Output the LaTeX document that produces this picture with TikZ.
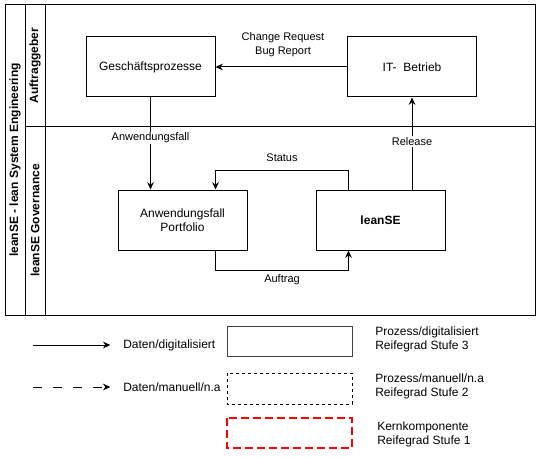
\documentclass[tikz,border=0pt]{standalone}
\usepackage{fontspec}
\setmainfont{Liberation Sans}
\usepackage{xcolor}
\definecolor{kern}{HTML}{FF0000}
\usetikzlibrary{arrows.meta, positioning, calc}

\begin{document}
\begin{tikzpicture}[x=0.75pt, y=-0.75pt,
    box/.style={draw, line width=0.75pt, minimum width=96.75pt, minimum height=45pt,
                align=center, font=\fontsize{9pt}{10.8pt}\selectfont},
    flow/.style={line width=0.75pt, -{Stealth[length=5.5pt, width=5pt]}},
    lbl/.style={font=\fontsize{8.25pt}{10.5pt}\selectfont, align=center, inner sep=1pt},
    lane/.style={font=\fontsize{9pt}{10.8pt}\selectfont\bfseries, rotate=90},
    legtxt/.style={font=\fontsize{9pt}{10.5pt}\selectfont, align=left, anchor=west, inner sep=0pt}]
  \useasboundingbox (0,0) rectangle (541,456);

  % pool mit zwei lanes
  \draw[line width=0.75pt] (5,5) rectangle (535,315);
  \draw[line width=0.75pt] (25,5) -- (25,315);
  \draw[line width=0.75pt] (45,5) -- (45,315);
  \draw[line width=0.75pt] (25,126) -- (535,126);
  \node[lane] (pool) at (15,160) {leanSE - lean System Engineering};
  \node[lane] (ag) at (35,65.5) {Auftraggeber};
  \node[lane] (gov) at (35,220.5) {leanSE Governance};

  % prozesse
  \node[box] (gp) at (150.5,67) {Geschäftsprozesse};
  \node[box] (it) at (412,67) {IT-\ \ Betrieb};
  \node[box] (afp) at (182.5,220) {Anwendungsfall\\Portfolio};
  \node[box, font=\fontsize{9pt}{10.8pt}\selectfont\bfseries] (lse) at (380.5,220) {leanSE};

  % datenflüsse
  \draw[flow] (it.west) -- (gp.east);
  \node[lbl] (cr) at (283,45) {Change Request\\Bug Report};
  \draw[flow] (gp.south) -- (gp.south |- afp.north)
    node[lbl, fill=white, pos=0.44] (af) {Anwendungsfall};
  \draw[flow] (lse.north -| it.south) -- (it.south)
    node[lbl, fill=white, pos=0.52] (rel) {Release};
  \draw[flow] ([xshift=24.75pt]lse.north west) -- ++(0,-19) -| ([xshift=-24pt]afp.north east)
    node[lbl, pos=0.25, above=5pt] (st) {Status};
  \draw[flow] ([xshift=-24pt]afp.south east) -- ++(0,20) -| ([xshift=24.75pt]lse.south west)
    node[lbl, pos=0.25, below=2pt] (auf) {Auftrag};

  % legende
  \node[legtxt] (d1) at (123,345) {Daten/digitalisiert};
  \node[legtxt] (d2) at (123,387) {Daten/manuell/n.a};
  \coordinate (l1) at (33,345);
  \coordinate (l2) at (33,387);
  \draw[flow] (l1) -- ([xshift=-9.5pt]d1.west);
  \draw[flow, dash pattern=on 6.5pt off 8.5pt] (l2) -- ([xshift=-9.5pt]d2.west);

  \draw[line width=0.75pt, black!75] (227,326) rectangle (352,356);
  \draw[line width=0.75pt, dash pattern=on 2.25pt off 2.25pt] (227,373) rectangle (352,404);
  \draw[line width=1.5pt, kern, dash pattern=on 6pt off 3pt] (227,418) rectangle (352,448);
  \node[legtxt] (p3) at (375,339) {Prozess/digitalisiert\\Reifegrad Stufe 3};
  \node[legtxt] (p2) at (375,386) {Prozess/manuell/n.a\\Reifegrad Stufe 2};
  \node[legtxt] (p1) at (377,434) {Kernkomponente\\Reifegrad Stufe 1};
\end{tikzpicture}
\end{document}
